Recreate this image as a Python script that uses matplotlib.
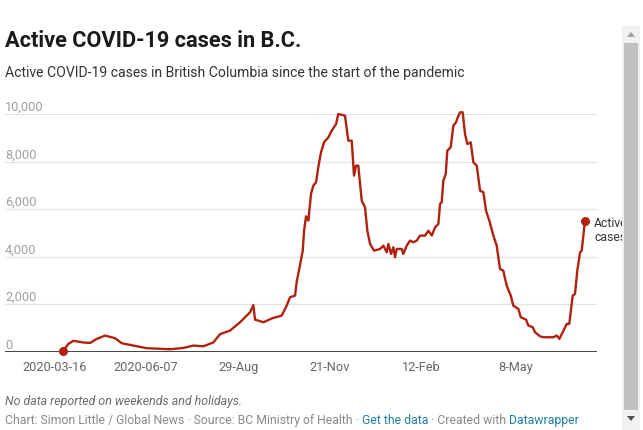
import matplotlib
matplotlib.use("Agg")
import matplotlib.pyplot as plt
import matplotlib.transforms as mtransforms
from matplotlib.patches import Rectangle, Polygon

plt.rcParams['font.family'] = ['Roboto', 'DejaVu Sans']

# day index (0 = first tick, 2020-03-16) and active cases
days = [7.5, 12.1, 16.6, 25.7, 31.8, 37.9, 45.5, 54.5, 60.6, 71.2, 83.4, 104.5,
        116.6, 125.7, 134.8, 143.9, 150.0, 159.1, 168.2, 177.3, 180.3, 181.8,
        189.4, 198.2, 206.1, 210.6, 213.6, 218.2, 219.7, 222.7, 225.2, 226.4,
        228.2, 230.3, 232.7, 234.8, 237.3, 239.4, 241.8, 244.5, 248.5, 251.5,
        255.5, 257.5, 263.6, 266.6, 269.7, 271.8, 273.6, 275.7, 278.8, 281.8,
        283.9, 286.4, 290.0, 295.5, 298.5, 301.5, 303.0, 305.5, 307.5, 309.1,
        310.6, 315.2, 316.6, 319.7, 322.7, 325.7, 328.8, 331.8, 336.4, 339.4,
        342.5, 345.5, 348.5, 350.0, 351.5, 353.0, 355.2, 356.6, 359.7, 362.1,
        364.5, 366.1, 368.2, 370.6, 372.7, 374.8, 377.9, 380.3, 383.4, 386.4,
        389.4, 391.8, 394.8, 398.5, 401.5, 404.5, 407.5, 410.6, 414.3, 416.6,
        421.2, 423.4, 428.2, 430.3, 434.3, 436.4, 440.9, 443.9, 453.0, 456.1,
        458.5, 461.5, 465.2, 467.5, 470.6, 472.7, 474.8, 477.3, 478.8, 481.8]
cases = [50, 340, 470, 400, 380, 550, 690, 580, 370, 270, 160, 115,
         170, 270, 240, 400, 750, 900, 1250, 1670, 1970, 1360,
         1250, 1430, 1530, 1950, 2300, 2370, 2950, 3650, 4260, 5100,
         5700, 5520, 6640, 6990, 7130, 7790, 8390, 8810, 9020, 9300,
         9580, 10000, 9930, 8880, 8880, 7410, 7830, 7830, 6360, 6080,
         5100, 4540, 4260, 4330, 4470, 4190, 4540, 4120, 4400, 3980,
         4330, 4330, 4120, 4470, 4680, 4610, 4680, 4890, 4890, 5100,
         4890, 5240, 5380, 6220, 6290, 7200, 7480, 8460, 8600, 9510,
         9650, 9860, 10070, 10070, 9160, 8740, 8810, 7970, 7830, 6780,
         6710, 5940, 5520, 4890, 4470, 3490, 3420, 2790, 2370, 1950,
         1810, 1460, 1360, 1110, 1040, 830, 660, 620, 620, 690,
         550, 830, 1180, 1180, 2370, 2440, 3420, 4190, 4260, 5520]

tick_pos = [0, 82.7, 166.4, 250, 333.4, 419]
tick_labels = ['2020-03-16', '2020-06-07', '29-Aug', '21-Nov', '12-Feb', '8-May']
y_ticks = [0, 2000, 4000, 6000, 8000, 10000]

W, H = 643, 431
fig = plt.figure(figsize=(W / 100, H / 100), dpi=100)
ax = fig.add_axes([5 / W, 78 / H, 592 / W, 238 / H])

red = '#b0210f'
ax.plot(days, cases, color=red, linewidth=1.7, clip_on=False, zorder=3)
ax.scatter([days[0], days[-1]], [cases[0], cases[-1]], s=30, color=red,
           zorder=4, clip_on=False)

ax.set_xlim(-45.5, 492.7)
ax.set_ylim(0, 10000)
for s in ax.spines.values():
    s.set_visible(False)
ax.axhline(0, color='#111111', linewidth=1.1, zorder=2)
for v in y_ticks[1:]:
    ax.axhline(v, color='#e3e3e3', linewidth=0.9, zorder=1)

ax.set_yticks([])
ax.set_xticks(tick_pos)
ax.set_xticklabels(tick_labels, fontsize=9.2, color='#666666')
ax.tick_params(axis='x', length=0, pad=5.5)

lab_tr = mtransforms.offset_copy(ax.get_yaxis_transform(), fig=fig, x=0, y=3, units='points')
for v in y_ticks:
    ax.text(0, v, f'{v:,}', transform=lab_tr, ha='left', va='baseline',
            fontsize=9.2, color='#a0a0a0')

end_tr = mtransforms.offset_copy(ax.transData, fig=fig, x=6.5, y=3.6, units='points')
ax.text(days[-1], cases[-1], 'Active\ncases', transform=end_tr, ha='left',
        va='top', fontsize=8.8, color='#333333', linespacing=1.15,
        clip_on=False)

fig.text(5 / W, 1 - 46.7 / H, 'Active COVID-19 cases in B.C.', fontsize=15.7,
         fontweight='bold', color='#1a1a1a', va='baseline')
fig.text(5 / W, 1 - 76.5 / H,
         'Active COVID-19 cases in British Columbia since the start of the pandemic',
         fontsize=10.1, color='#333333', va='baseline')
fig.text(5 / W, 1 - 405 / H, 'No data reported on weekends and holidays.',
         fontsize=8.9, style='italic', color='#6b6b6b', va='baseline')

# footer with coloured links, placed piece by piece
pieces = [('Chart: Simon Little / Global News · Source: BC Ministry of Health · ', '#8a8a8a'),
          ('Get the data', '#1d81a2'),
          (' · Created with ', '#8a8a8a'),
          ('Datawrapper', '#1d81a2')]
renderer = fig.canvas.get_renderer()
x = 5
for txt, col in pieces:
    t = fig.text(x / W, 1 - 424.5 / H, txt, fontsize=8.8, color=col, va='baseline')
    x += t.get_window_extent(renderer).width

# browser scrollbar at the right edge
fig.patches.append(Rectangle((622 / W, 0), 18 / W, 1 - 27 / H, transform=fig.transFigure,
                             facecolor='#f1f1f1', edgecolor='none', zorder=10))
fig.patches.append(Rectangle((624 / W, 1 - 411 / H), 14 / W, (411 - 44) / H,
                             transform=fig.transFigure, facecolor='#c1c1c1',
                             edgecolor='none', zorder=11))
fig.patches.append(Polygon([(627 / W, 1 - 38 / H), (635 / W, 1 - 38 / H), (631 / W, 1 - 33 / H)],
                           closed=True, transform=fig.transFigure, facecolor='#a3a3a3',
                           edgecolor='none', zorder=11))
fig.patches.append(Polygon([(627 / W, 1 - 417 / H), (635 / W, 1 - 417 / H), (631 / W, 1 - 422 / H)],
                           closed=True, transform=fig.transFigure, facecolor='#505050',
                           edgecolor='none', zorder=11))

fig.savefig('out.png', dpi=100)
